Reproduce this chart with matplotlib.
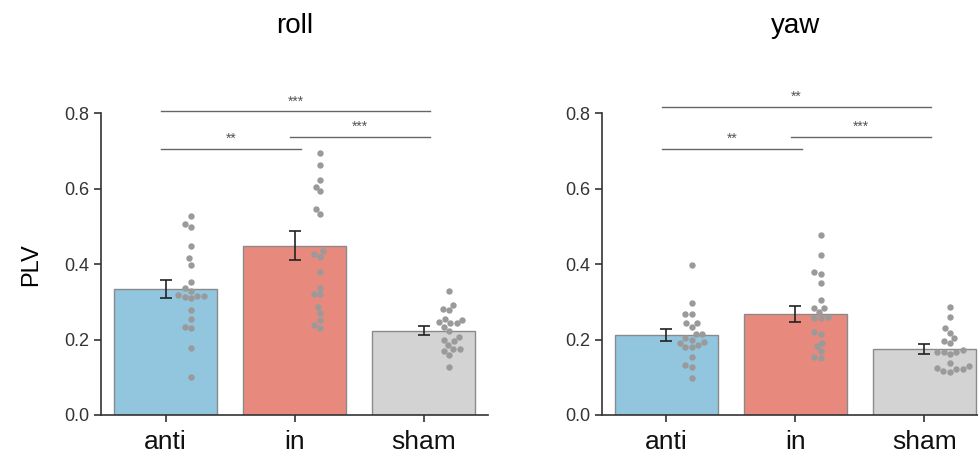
import numpy as np
import pandas as pd
import matplotlib
matplotlib.use("Agg")
import matplotlib.pyplot as plt
import seaborn as sns

plt.rcParams['font.family'] = ['Liberation Sans', 'DejaVu Sans']

categories = ["anti", "in", "sham"]
panels = ["roll", "yaw"]

# individual data points
roll_anti = [0.528, 0.506, 0.499, 0.449, 0.415, 0.399, 0.352, 0.336, 0.329, 0.318,
             0.313, 0.309, 0.316, 0.316, 0.278, 0.254, 0.233, 0.231, 0.178, 0.101]
roll_in = [0.696, 0.662, 0.624, 0.605, 0.593, 0.545, 0.532, 0.434, 0.426, 0.418,
           0.379, 0.337, 0.320, 0.320, 0.287, 0.271, 0.253, 0.238, 0.230]
roll_sham = [0.329, 0.292, 0.280, 0.278, 0.255, 0.246, 0.243, 0.243, 0.252, 0.234,
             0.223, 0.196, 0.199, 0.206, 0.186, 0.170, 0.174, 0.174, 0.160, 0.128]
yaw_anti = [0.399, 0.297, 0.267, 0.269, 0.243, 0.244, 0.234, 0.214, 0.214, 0.203,
            0.190, 0.194, 0.185, 0.181, 0.179, 0.200, 0.154, 0.132, 0.128, 0.097]
yaw_in = [0.477, 0.424, 0.378, 0.375, 0.350, 0.305, 0.285, 0.285, 0.274, 0.258,
          0.258, 0.260, 0.219, 0.216, 0.192, 0.183, 0.170, 0.154, 0.150]
yaw_sham = [0.287, 0.259, 0.230, 0.218, 0.203, 0.197, 0.190, 0.172, 0.168, 0.168,
            0.168, 0.162, 0.139, 0.130, 0.124, 0.121, 0.121, 0.117, 0.115]

# bar heights and error (SEM)
roll_means = [0.334, 0.449, 0.223]
roll_sems = [0.025, 0.039, 0.012]
yaw_means = [0.211, 0.268, 0.174]
yaw_sems = [0.016, 0.021, 0.013]

# significance annotations: (i, j, height, label)
roll_sig = [(0, 2, 0.805, "***"), (0, 1, 0.706, "**"), (1, 2, 0.737, "***")]
yaw_sig = [(0, 2, 0.818, "**"), (0, 1, 0.706, "**"), (1, 2, 0.737, "***")]

yticks = [0.0, 0.2, 0.4, 0.6, 0.8]

colors = ["#92C5DE", "#E8897E", "#D3D3D3"]

data = {
    "roll": ([roll_anti, roll_in, roll_sham], roll_means, roll_sems, roll_sig),
    "yaw": ([yaw_anti, yaw_in, yaw_sham], yaw_means, yaw_sems, yaw_sig),
}

fig = plt.figure(figsize=(9.79, 4.63), dpi=100)
ax_pos = [[0.1032, 0.1037, 0.3953, 0.6516], [0.6146, 0.1037, 0.3953, 0.6516]]

for k, name in enumerate(panels):
    ax = fig.add_axes(ax_pos[k])
    pts, means, sems, sig = data[name]
    xs = np.arange(len(categories))
    ax.bar(xs, means, width=0.8, color=colors, edgecolor="#8a8a8a", linewidth=1.0, zorder=1)
    ax.errorbar(xs, means, yerr=sems, fmt="none", ecolor="#222222", elinewidth=1.2,
                capsize=4, capthick=1.2, zorder=3)
    xv, yv = [], []
    for i, p in enumerate(pts):
        xv += [i + 0.2] * len(p)
        yv += list(p)
    df = pd.DataFrame({"x": xv, "y": yv})
    sns.swarmplot(data=df, x="x", y="y", native_scale=True, ax=ax, color="#9a9a9a",
                  size=4.6, zorder=4, linewidth=0)
    ax.set_xlim(-0.5, 2.5)
    ax.set_ylim(0, 0.8)
    ax.set_xticks(xs)
    ax.set_xticklabels(categories, fontsize=19)
    ax.set_yticks(yticks)
    ax.set_yticklabels([f"{t:.1f}" for t in yticks], fontsize=13, color="#333333")
    ax.tick_params(axis="y", length=5, width=1.2, colors="#333333", labelcolor="#333333")
    ax.tick_params(axis="x", length=5, width=1.2, colors="#333333", labelcolor="#111111", pad=6)
    ax.set_xlabel("")
    ax.set_ylabel("")
    for s in ["top", "right"]:
        ax.spines[s].set_visible(False)
    for s in ["left", "bottom"]:
        ax.spines[s].set_linewidth(1.2)
        ax.spines[s].set_color("#333333")
    for (i, j, h, lab) in sig:
        ax.plot([i - 0.035, j + 0.05], [h, h], color="#666666", lw=1.0, clip_on=False)
        ax.text((i + j) / 2 + 0.01, h + 0.008, lab, ha="center", va="bottom",
                fontsize=10, color="#555555", clip_on=False)
    ax.text(0.5, 1.29, name, transform=ax.transAxes, ha="center", va="center", fontsize=20)
    if k == 0:
        ax.set_ylabel("PLV", fontsize=17, labelpad=16)

fig.savefig("out.png", dpi=100)
